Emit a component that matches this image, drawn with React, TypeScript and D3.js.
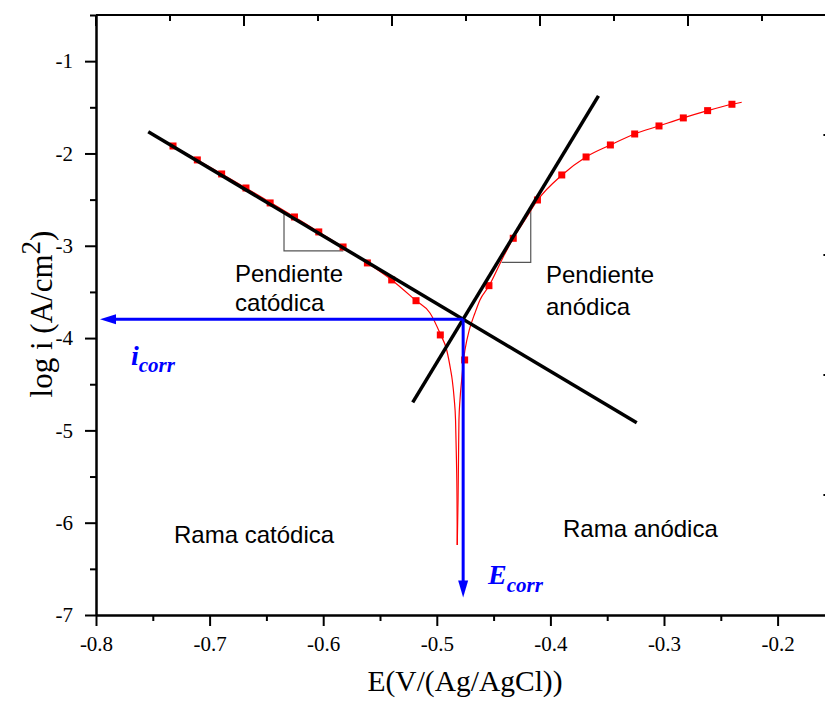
import React, { useEffect, useRef } from "react";
import * as d3 from "d3";

const dimensions = { width: 825, height: 706 };

// measured points: potential (V vs Ag/AgCl) and log i
const potential = [
  -0.7322, -0.7108, -0.6894, -0.668, -0.6467, -0.6253, -0.6039, -0.5825, -0.5611, -0.5397, -0.5183, -0.4969,
  -0.4755, -0.4541, -0.4327, -0.4114, -0.39, -0.3686, -0.3472, -0.3258, -0.3044, -0.283, -0.2616, -0.2402,
];
const logCurrent = [
  -1.919, -2.07, -2.222, -2.374, -2.536, -2.688, -2.85, -3.013, -3.186, -3.37, -3.595, -3.966,
  -4.237, -3.432, -2.919, -2.504, -2.233, -2.038, -1.908, -1.789, -1.702, -1.615, -1.536, -1.467,
];

// fitted curve, cathodic branch
const fitCathE = [
  -0.7322, -0.668, -0.6039, -0.5611, -0.5397, -0.5183, -0.506, -0.4969, -0.4913, -0.4878, -0.4864, -0.4846,
  -0.4835, -0.4827, -0.4822, -0.482,
];
const fitCathLog = [
  -1.919, -2.374, -2.85, -3.186, -3.37, -3.595, -3.728, -3.956, -4.129, -4.346, -4.454, -4.671,
  -4.887, -5.321, -5.754, -6.242,
];
// fitted curve, anodic branch
const fitAnodE = [
  -0.482, -0.4813, -0.4809, -0.4805, -0.4796, -0.4781, -0.4765, -0.4752, -0.4714, -0.4664, -0.462, -0.4541,
  -0.4415, -0.4327, -0.4224, -0.4112, -0.3898, -0.3687, -0.3472, -0.3258, -0.3044, -0.283, -0.2616, -0.2402,
  -0.2316,
];
const fitAnodLog = [
  -6.242, -5.754, -5.321, -4.887, -4.671, -4.454, -4.237, -4.129, -3.912, -3.728, -3.587, -3.436,
  -3.121, -2.919, -2.72, -2.504, -2.233, -2.038, -1.908, -1.789, -1.702, -1.615, -1.536, -1.467,
  -1.445,
];

// Tafel lines [E, log i] start / end
const cathodicTafel = [[-0.754, -1.764], [-0.324, -4.917]];
const anodicTafel = [[-0.5212, -4.696], [-0.3577, -1.377]];

// slope triangles
const cathodicTriangle = [[-0.6345, -2.64], [-0.6345, -3.056], [-0.5823, -3.056]];
const anodicTriangle = [[-0.4429, -3.179], [-0.4173, -3.179], [-0.4173, -2.588]];

const Ecorr = -0.4768;
const icorr = -3.796;
const arrowEndE = -0.7965;
const arrowEndLog = -6.81;

const xMajor = [-0.8, -0.7, -0.6, -0.5, -0.4, -0.3, -0.2];
const xMinor = [-0.75, -0.65, -0.55, -0.45, -0.35, -0.25, -0.15];
const yMajor = [-7, -6, -5, -4, -3, -2, -1];
const yMinor = [-6.5, -5.5, -4.5, -3.5, -2.5, -1.5, -0.5];

function TafelPlot() {
  const ref = useRef<SVGSVGElement>(null);

  useEffect(() => {
    const svg = d3.select(ref.current);
    svg.selectAll("*").remove();

    const left = 96, top = 15, bottom = 615;
    const x = d3.scaleLinear().domain([-0.8, -0.15]).range([left, left + 0.65 * 1136]);
    const y = d3.scaleLinear().domain([-7, -0.5]).range([bottom, top]);
    const right = x(-0.15);

    const serif = "Liberation Serif, Times New Roman, serif";
    const sans = "Liberation Sans, Arial, sans-serif";

    ///////////////////////////////////////////////////////////////////////////
    //////////////////// Axes
    ///////////////////////////////////////////////////////////////////////////
    const axisStyle = (g: any) => {
      g.attr("font-family", serif).attr("font-size", 21);
      g.select(".domain").attr("stroke", "#000").attr("stroke-width", 2);
      g.selectAll(".tick line").attr("stroke", "#000").attr("stroke-width", 2);
      g.selectAll(".tick text")
        .attr("fill", "#000")
        .attr("font-family", serif)
        .attr("font-size", 21)
        .style("font-family", serif)
        .style("font-size", "21px");
    };

    svg.append("g")
      .attr("transform", "translate(0," + bottom + ")")
      .call(d3.axisBottom(x).tickValues(xMinor).tickSize(6).tickFormat(() => "").tickSizeOuter(0))
      .call(axisStyle);
    svg.append("g")
      .attr("transform", "translate(0," + bottom + ")")
      .call(d3.axisBottom(x).tickValues(xMajor).tickSize(11).tickPadding(10).tickSizeOuter(0)
        .tickFormat((d: any) => d3.format(".1f")(d).replace("−", "-")))
      .call(axisStyle);

    svg.append("g")
      .attr("transform", "translate(" + left + ",0)")
      .call(d3.axisLeft(y).tickValues(yMinor).tickSize(6).tickFormat(() => "").tickSizeOuter(0))
      .call(axisStyle);
    svg.append("g")
      .attr("transform", "translate(" + left + ",0)")
      .call(d3.axisLeft(y).tickValues(yMajor).tickSize(11).tickPadding(12).tickSizeOuter(0)
        .tickFormat((d: any) => String(d).replace("−", "-")))
      .call(axisStyle);

    // secondary top / right axes (inward ticks, no labels)
    const xTop = d3.scaleLinear().domain([0, 5]).range([left, left + 5 * 148]);
    const yRight = d3.scaleLinear().domain([0, 5]).range([bottom, top]);
    const topG = svg.append("g").attr("transform", "translate(0," + top + ")");
    topG.append("line").attr("x1", left).attr("x2", right + 2).attr("y1", 0).attr("y2", 0)
      .attr("stroke", "#000").attr("stroke-width", 2);
    topG.selectAll("line.tk").data(d3.range(0, 5.01, 0.5)).enter().append("line")
      .attr("x1", (d) => xTop(d)).attr("x2", (d) => xTop(d))
      .attr("y1", 0).attr("y2", (d) => (d % 1 === 0 ? 11 : 6))
      .attr("stroke", "#000").attr("stroke-width", 2);
    svg.append("g").selectAll("line").data([1, 2, 3, 4]).enter().append("line")
      .attr("x1", right - 11).attr("x2", right)
      .attr("y1", (d) => yRight(d)).attr("y2", (d) => yRight(d))
      .attr("stroke", "#000").attr("stroke-width", 2);
    svg.append("line").attr("x1", right).attr("x2", right).attr("y1", top).attr("y2", bottom)
      .attr("stroke", "#000").attr("stroke-width", 2);

    // axis titles
    svg.append("text")
      .attr("x", 465).attr("y", 691)
      .attr("text-anchor", "middle")
      .style("font-family", serif).style("font-size", "29.5px")
      .text("E(V/(Ag/AgCl))");

    const yl = svg.append("text")
      .attr("transform", "translate(52,314) rotate(-90)")
      .attr("text-anchor", "middle")
      .style("font-family", serif).style("font-size", "31px");
    yl.append("tspan").text("log i (A/cm");
    yl.append("tspan").attr("dy", -12).style("font-size", "27px").text("2");
    yl.append("tspan").attr("dy", 12).text(")");

    ///////////////////////////////////////////////////////////////////////////
    //////////////////// Slope triangles
    ///////////////////////////////////////////////////////////////////////////
    const lineGen = d3.line<number[]>().x((d) => x(d[0])).y((d) => y(d[1]));
    [cathodicTriangle, anodicTriangle].forEach((t) => {
      svg.append("path").attr("d", lineGen(t) as string)
        .attr("fill", "none").attr("stroke", "#555").attr("stroke-width", 1.2);
    });

    ///////////////////////////////////////////////////////////////////////////
    //////////////////// Fitted curve and data
    ///////////////////////////////////////////////////////////////////////////
    const fitLine = d3.line<number>()
      .x((d) => x(d))
      .curve(d3.curveMonotoneX);
    svg.append("path")
      .attr("d", fitLine.y((d, i) => y(fitCathLog[i]))(fitCathE) as string)
      .attr("fill", "none").attr("stroke", "#ff0000").attr("stroke-width", 1.2);
    svg.append("path")
      .attr("d", fitLine.y((d, i) => y(fitAnodLog[i]))(fitAnodE) as string)
      .attr("fill", "none").attr("stroke", "#ff0000").attr("stroke-width", 1.2);

    svg.selectAll("rect.pt").data(potential).enter().append("rect")
      .attr("x", (d) => x(d) - 3.5)
      .attr("y", (d, i) => y(logCurrent[i]) - 3.5)
      .attr("width", 7).attr("height", 7)
      .attr("fill", "#ff0000");

    // Tafel lines
    [cathodicTafel, anodicTafel].forEach((t) => {
      svg.append("path").attr("d", lineGen(t) as string)
        .attr("fill", "none").attr("stroke", "#000").attr("stroke-width", 3.5);
    });

    ///////////////////////////////////////////////////////////////////////////
    //////////////////// icorr / Ecorr arrows
    ///////////////////////////////////////////////////////////////////////////
    const blue = "#0000ff";
    const ex = x(Ecorr), iy = y(icorr);
    const hx = x(arrowEndE), vy = y(arrowEndLog);
    svg.append("line").attr("x1", ex).attr("y1", iy).attr("x2", hx + 12).attr("y2", iy)
      .attr("stroke", blue).attr("stroke-width", 3);
    svg.append("path")
      .attr("d", `M${hx},${iy} L${hx + 16},${iy - 5} L${hx + 16},${iy + 5} Z`)
      .attr("fill", blue);
    svg.append("line").attr("x1", ex).attr("y1", iy).attr("x2", ex).attr("y2", vy - 12)
      .attr("stroke", blue).attr("stroke-width", 3);
    svg.append("path")
      .attr("d", `M${ex},${vy} L${ex - 5},${vy - 17} L${ex + 5},${vy - 17} Z`)
      .attr("fill", blue);

    const ecorrT = svg.append("text").attr("x", 488).attr("y", 584)
      .attr("fill", blue).style("font-family", serif).style("font-size", "28px")
      .style("font-style", "italic").style("font-weight", "bold");
    ecorrT.append("tspan").text("E");
    ecorrT.append("tspan").attr("dy", 8).style("font-size", "21px").text("corr");

    const icorrT = svg.append("text").attr("x", 131).attr("y", 365)
      .attr("fill", blue).style("font-family", serif).style("font-size", "28px")
      .style("font-style", "italic").style("font-weight", "bold");
    icorrT.append("tspan").text("i");
    icorrT.append("tspan").attr("dy", 7).style("font-size", "21px").text("corr");

    ///////////////////////////////////////////////////////////////////////////
    //////////////////// Annotations
    ///////////////////////////////////////////////////////////////////////////
    const notes = [
      { t: "Pendiente", x: 235, y: 282 },
      { t: "catódica", x: 235, y: 311 },
      { t: "Pendiente", x: 546, y: 283 },
      { t: "anódica", x: 546, y: 315 },
      { t: "Rama catódica", x: 174, y: 543 },
      { t: "Rama anódica", x: 563, y: 537 },
    ];
    svg.selectAll("text.note").data(notes).enter().append("text")
      .attr("x", (d) => d.x).attr("y", (d) => d.y)
      .style("font-family", sans).style("font-size", "24px")
      .attr("fill", "#000")
      .text((d) => d.t);
  }, []);

  return (
    <svg
      ref={ref}
      width={dimensions.width}
      height={dimensions.height}
      style={{ position: "absolute", left: 0, top: 0, background: "#fff" }}
    />
  );
}

export default function App() {
  return <TafelPlot />;
}
